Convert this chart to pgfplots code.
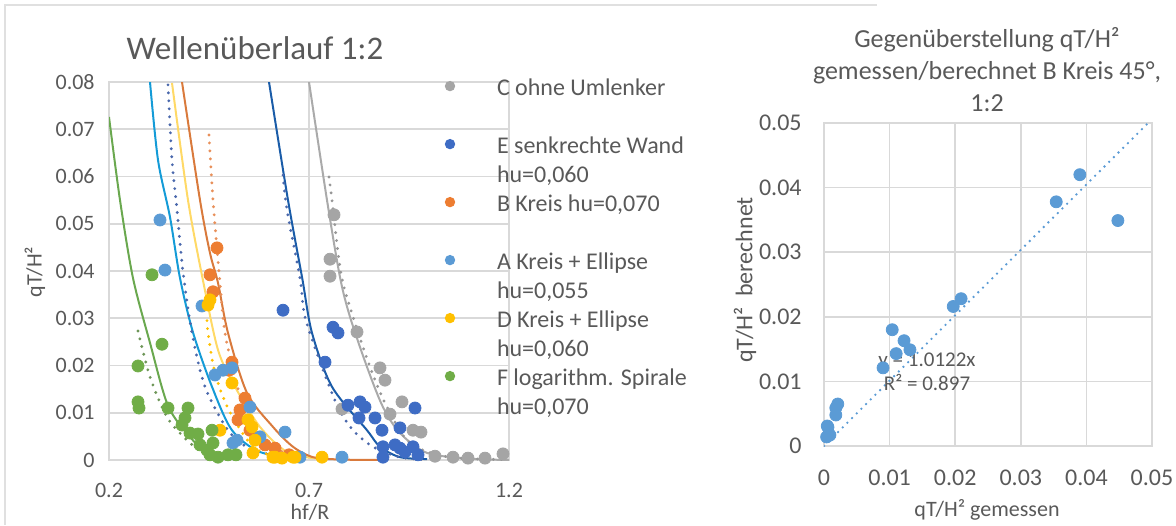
\documentclass[border=0pt]{standalone}
\usepackage{fontspec}
\setmainfont{Carlito}
\usepackage{pgfplots}
\pgfplotsset{compat=1.18}
\definecolor{cC}{HTML}{A5A5A5}
\definecolor{cE}{HTML}{3E6CC4}
\definecolor{cB}{HTML}{ED7D31}
\definecolor{cA}{HTML}{5B9BD5}
\definecolor{cD}{HTML}{FFC000}
\definecolor{cF}{HTML}{70AD47}
\definecolor{gridc}{HTML}{D9D9D9}
\definecolor{labc}{HTML}{595959}
\definecolor{tFs}{HTML}{6AA84F}
\definecolor{tFd}{HTML}{6E9658}
\definecolor{tAs}{HTML}{149BD7}
\definecolor{tAd}{HTML}{4A68AC}
\definecolor{tDs}{HTML}{FFD966}
\definecolor{tDd}{HTML}{FFC000}
\definecolor{tBs}{HTML}{D97A3C}
\definecolor{tBd}{HTML}{E8905A}
\definecolor{tEs}{HTML}{1A5CA8}
\definecolor{tEd}{HTML}{4A68AC}
\definecolor{tCs}{HTML}{AAAAAA}
\definecolor{tCd}{HTML}{979797}
\tikzset{dotl/.style={line width=1.6pt, line cap=round, dash pattern=on 0pt off 4pt},
  soll/.style={line width=1pt}}
\pgfplotsset{every axis title shift=0pt}
\begin{document}
\begin{tikzpicture}
\path[use as bounding box] (0,0) rectangle (588pt,262.5pt);
\draw[color=black!12, line width=0.8pt] (2.5pt,0) -- (2.5pt,260pt) -- (438.5pt,260pt);
\begin{axis}[
  at={(54.5pt,32.5pt)}, anchor=south west, scale only axis,
  width=200pt, height=189pt,
  xmin=0.2, xmax=1.2, ymin=0, ymax=0.08,
  scaled x ticks=false, scaled y ticks=false,
  xtick={0.2,0.7,1.2}, xticklabels={0.2,0.7,1.2},
  ytick={0,0.01,0.02,0.03,0.04,0.05,0.06,0.07,0.08},
  yticklabels={0,0.01,0.02,0.03,0.04,0.05,0.06,0.07,0.08},
  grid=major, major grid style={draw=gridc, line width=0.8pt},
  axis line style={draw=gridc, line width=0.8pt}, tick style={draw=none},
  ticklabel style={font=\fontsize{11}{13}\selectfont, text=labc, inner sep=0pt},
  xticklabel style={anchor=center, yshift=-15pt},
  yticklabel style={anchor=east, xshift=-7pt},
  title={Wellenüberlauf 1:2},
  title style={at={(0.365,1.09)}, anchor=center, font=\fontsize{16.5}{19}\selectfont, text=labc},
  xlabel={hf/R}, xlabel style={at={(0.5025,-0.1376)}, anchor=center, font=\fontsize{11}{13}\selectfont, text=labc},
  legend style={at={(0.8325,1.017)}, anchor=north west, draw=none, fill=none, inner sep=0pt, outer sep=0pt, row sep=0pt,
    font=\fontsize{12}{14.5}\selectfont, text=labc,
    nodes={inner sep=0pt, text height=10pt, text depth=4.5pt},
    /tikz/every odd column/.append style={column sep=7.5pt}},
  legend cell align=left,
  legend image code/.code={\path[draw=none,fill=none] (0pt,-4pt) rectangle (20pt,4pt); \fill[#1, draw=none] (4pt,2pt) circle (2.6pt);},
  mark size=3pt,
]
% C ohne Umlenker
\addplot[only marks, mark=*, color=cC, forget plot] coordinates {
(0.7625,0.0519) (0.7525,0.0425) (0.7525,0.0389) (0.82,0.0271) (0.8775,0.0195) (0.89,0.0169)
(0.9325,0.0123) (0.9025,0.0097) (0.7825,0.0108) (0.96,0.0063) (0.98,0.0059) (1.015,0.0008)
(1.06,0.0006) (1.0975,0.0004) (1.14,0.0004) (1.185,0.0013)};
% E senkrechte Wand
\addplot[only marks, mark=*, color=cE, forget plot] coordinates {
(0.635,0.0317) (0.76,0.0281) (0.7725,0.0269) (0.74,0.0207) (0.7975,0.0116) (0.8275,0.0123)
(0.84,0.0112) (0.825,0.0089) (0.865,0.0089) (0.8825,0.0063) (0.9275,0.0068) (0.965,0.011)
(0.885,0.0028) (0.885,0.0006) (0.9275,0.0025) (0.96,0.0028) (0.9725,0.0011) (0.94,0.0017) (0.915,0.0032)};
% B Kreis
\addplot[only marks, mark=*, color=cB, forget plot] coordinates {
(0.47,0.0449) (0.4525,0.0392) (0.46,0.0356) (0.5075,0.0207) (0.50,0.019) (0.54,0.0131)
(0.5275,0.0106) (0.5225,0.0085) (0.5525,0.0063) (0.59,0.0032) (0.615,0.0025) (0.65,0.0011)};
% A Kreis + Ellipse
\addplot[only marks, mark=*, color=cA, forget plot] coordinates {
(0.3275,0.0508) (0.34,0.0402) (0.4325,0.0326) (0.465,0.018) (0.485,0.019) (0.5075,0.0195)
(0.5525,0.0112) (0.64,0.0059) (0.52,0.0042) (0.5775,0.0049) (0.6775,0.0006) (0.7825,0.0006) (0.51,0.0036)};
% D Kreis + Ellipse
\addplot[only marks, mark=*, color=cD, forget plot] coordinates {
(0.4475,0.0328) (0.4525,0.0339) (0.5075,0.0163) (0.5475,0.0085) (0.5575,0.007) (0.4775,0.0063)
(0.56,0.0015) (0.565,0.0042) (0.61,0.0006) (0.615,0.0006) (0.6325,0.0004) (0.66,0.0006)
(0.665,0.0006) (0.7325,0.0006)};
% F logarithm. Spirale
\addplot[only marks, mark=*, color=cF, forget plot] coordinates {
(0.3075,0.0392) (0.3325,0.0245) (0.2725,0.0199) (0.2725,0.0123) (0.275,0.011) (0.3475,0.011)
(0.39,0.0089) (0.3975,0.011) (0.3825,0.0074) (0.4025,0.0057) (0.4225,0.0055) (0.4575,0.0063)
(0.4275,0.0032) (0.445,0.0021) (0.4525,0.0011) (0.4725,0.0006) (0.4975,0.0011) (0.5175,0.0011) (0.46,0.0036)};
% trendlines
\addplot[soll, tFs, smooth, forget plot] coordinates {(0.2,0.0726) (0.2275,0.055) (0.26,0.0385) (0.3025,0.0248) (0.3475,0.0115) (0.4025,0.0049) (0.4525,0.0008) (0.5,0.0002)};
\addplot[dotl, tFd, smooth, forget plot] coordinates {(0.2725,0.0273) (0.3025,0.0176) (0.345,0.0091) (0.395,0.0042) (0.435,0.0015) (0.47,0.0004)};
\addplot[soll, tAs, smooth, forget plot] coordinates {(0.3025,0.08) (0.3225,0.0635) (0.3525,0.0514) (0.3775,0.0385) (0.41,0.027) (0.4575,0.0155) (0.5075,0.0063) (0.5775,0.0017) (0.68,0.0002)};
\addplot[dotl, tAd, smooth, forget plot] coordinates {(0.3475,0.0794) (0.3575,0.0635) (0.37,0.053) (0.385,0.0398) (0.4075,0.0269) (0.44,0.0155) (0.4975,0.0063) (0.55,0.0025) (0.62,0.0008)};
\addplot[soll, tDs, smooth, forget plot] coordinates {(0.3575,0.0798) (0.3975,0.055) (0.435,0.038) (0.4725,0.0233) (0.515,0.0155) (0.5775,0.007) (0.645,0.0017) (0.72,0.0003)};
\addplot[dotl, tDd, smooth, forget plot] coordinates {(0.445,0.0295) (0.4475,0.027) (0.465,0.0184) (0.50,0.0105) (0.56,0.0028) (0.62,0.0006)};
\addplot[soll, tBs, smooth, forget plot] coordinates {(0.3825,0.08) (0.4275,0.055) (0.4525,0.0438) (0.4725,0.0375) (0.4975,0.0269) (0.545,0.0142) (0.61,0.007) (0.66,0.0028) (0.71,0.0006) (0.78,0.0001) (0.88,0.0)};
\addplot[dotl, tBd, smooth, forget plot] coordinates {(0.45,0.0688) (0.46,0.055) (0.4775,0.0375) (0.49,0.0269) (0.515,0.0175) (0.54,0.0105) (0.58,0.0045) (0.61,0.0025) (0.68,0.0005)};
\addplot[soll, tEs, smooth, forget plot] coordinates {(0.6,0.08) (0.6475,0.055) (0.683,0.0385) (0.7075,0.0269) (0.7575,0.0155) (0.845,0.0063) (0.8775,0.0028) (0.9275,0.0006) (0.995,0.0002)};
\addplot[dotl, tEd, smooth, forget plot] coordinates {(0.635,0.0603) (0.645,0.0529) (0.6775,0.0385) (0.69,0.0303) (0.7325,0.0197) (0.7725,0.0112) (0.81,0.0063) (0.86,0.0028) (0.9275,0.0006) (1.0,0.0001)};
\addplot[soll, tCs, smooth, forget plot] coordinates {(0.7,0.08) (0.745,0.055) (0.7775,0.0387) (0.8025,0.0303) (0.845,0.0197) (0.885,0.0112) (0.9275,0.0057) (0.995,0.0015) (1.1,0.0003) (1.2,0.0)};
\addplot[dotl, tCd, smooth, forget plot] coordinates {(0.75,0.0599) (0.7575,0.055) (0.78,0.0395) (0.81,0.0303) (0.8525,0.0197) (0.895,0.0112) (0.9525,0.0036) (1.05,0.0006) (1.2,0.0001)};
% legend
\addlegendimage{color=cC}\addlegendentry{C ohne Umlenker}
\addlegendimage{empty legend}\addlegendentry{}
\addlegendimage{color=cE}\addlegendentry{E senkrechte Wand}
\addlegendimage{empty legend}\addlegendentry{hu=0,060}
\addlegendimage{color=cB}\addlegendentry{B Kreis hu=0,070}
\addlegendimage{empty legend}\addlegendentry{}
\addlegendimage{color=cA}\addlegendentry{A Kreis + Ellipse}
\addlegendimage{empty legend}\addlegendentry{hu=0,055}
\addlegendimage{color=cD}\addlegendentry{D Kreis + Ellipse}
\addlegendimage{empty legend}\addlegendentry{hu=0,060}
\addlegendimage{color=cF}\addlegendentry{F logarithm. Spirale}
\addlegendimage{empty legend}\addlegendentry{hu=0,070}
\end{axis}
\begin{axis}[
  at={(412pt,39.5pt)}, anchor=south west, scale only axis,
  width=164pt, height=161.5pt,
  xmin=0, xmax=0.05, ymin=0, ymax=0.05,
  scaled x ticks=false, scaled y ticks=false,
  xtick={0,0.01,0.02,0.03,0.04,0.05}, xticklabels={0,0.01,0.02,0.03,0.04,0.05},
  ytick={0,0.01,0.02,0.03,0.04,0.05}, yticklabels={0,0.01,0.02,0.03,0.04,0.05},
  grid=major, major grid style={draw=gridc, line width=0.8pt},
  axis line style={draw=gridc, line width=0.8pt}, tick style={draw=none},
  ticklabel style={font=\fontsize{12}{14}\selectfont, text=labc, inner sep=0pt},
  xticklabel style={anchor=center, yshift=-16pt},
  yticklabel style={anchor=east, xshift=-11pt},
  title={Gegenüberstellung qT/H²\\gemessen/berechnet B Kreis 45°,\\1:2},
  title style={at={(0.497,1.164)}, anchor=center, align=center, font=\fontsize{13}{16}\selectfont, text=labc},
  xlabel={qT/H² gemessen}, xlabel style={at={(0.497,-0.198)}, anchor=center, font=\fontsize{11}{13}\selectfont, text=labc},
  mark size=3pt,
]
\addplot[only marks, mark=*, color=cA] coordinates {
(0.039,0.042) (0.0354,0.0378) (0.0448,0.0349) (0.0209,0.0228) (0.0197,0.0216) (0.0104,0.018)
(0.0122,0.0163) (0.0131,0.0149) (0.011,0.0143) (0.009,0.0121) (0.0021,0.0065) (0.0018,0.0059)
(0.0018,0.0048) (0.0006,0.0029) (0.0009,0.0017) (0.0004,0.0014) (0.0005,0.0031)};
\addplot[cA, line width=1.3pt, line cap=round, dash pattern=on 0pt off 3.3pt] coordinates {(0,0) (0.05,0.0506)};
\node[align=center, font=\fontsize{10.5}{12}\selectfont, text=labc] at (rel axis cs:0.314,0.229) {y = 1.0122x\\R² = 0.897};
\end{axis}
\node[rotate=90, font=\fontsize{11}{13}\selectfont, text=labc] at (17.5pt,126.5pt) {qT/H²};
\node[rotate=90, font=\fontsize{12}{14}\selectfont, text=labc] at (372.5pt,122.5pt) {qT/H²\ \ berechnet};
\end{tikzpicture}
\end{document}
